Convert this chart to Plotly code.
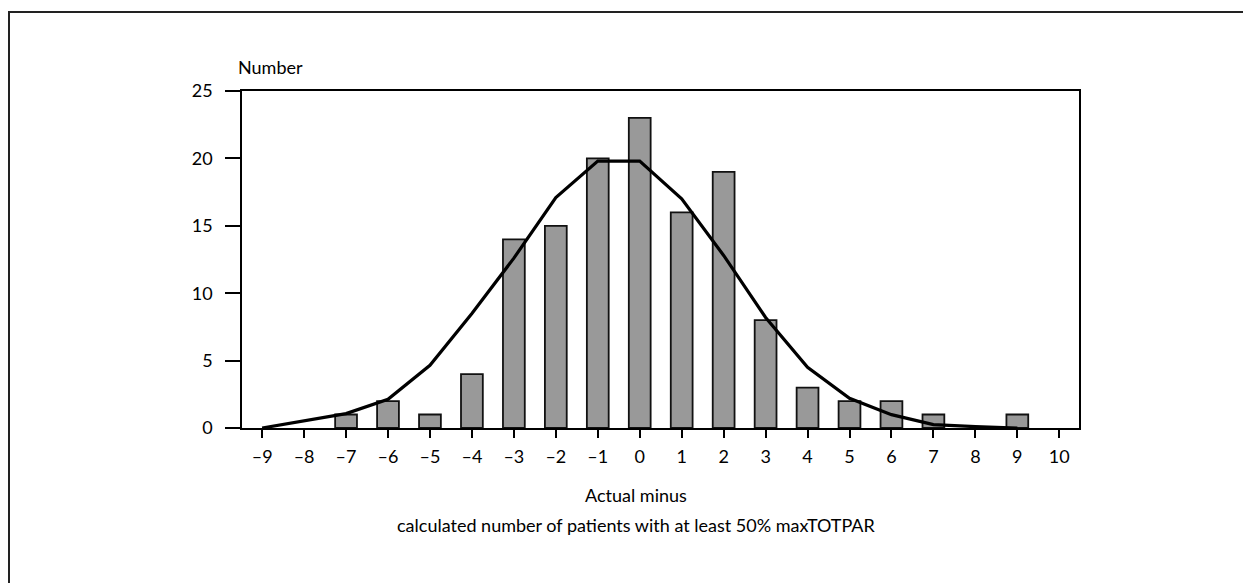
import plotly.graph_objects as go

# Histogram of differences (bars) and the fitted normal curve (line)
bar_x = [-7, -6, -5, -4, -3, -2, -1, 0, 1, 2, 3, 4, 5, 6, 7, 9]
bar_counts = [1, 2, 1, 4, 14, 15, 20, 23, 16, 19, 8, 3, 2, 2, 1, 1]

curve_x = [-9, -8, -7, -6, -5, -4, -3, -2, -1, 0, 1, 2, 3, 4, 5, 6, 7, 8, 9]
curve_y = [0, 0.52, 1.07, 2.13, 4.65, 8.5, 12.6, 17.1, 19.8, 19.8, 17.0, 12.8, 8.2, 4.5, 2.2, 0.99, 0.25, 0.1, 0]

tick_vals = list(range(-9, 11))
tick_text = ["–9", "–8", "–7", "–6", "–5", "–4", "–3", "–2", "–1", "0",
             "1", "2", "3", "4", "5", "6", "7", "8", "9", "10"]
y_ticks = [0, 5, 10, 15, 20, 25]

FONT = "Lato, 'Open Sans', sans-serif"

W, H = 1243, 583
ML, MR, MT, MB = 242, 164, 91, 155
pw = W - ML - MR
ph = H - MT - MB

fig = go.Figure()
fig.add_trace(go.Bar(
    x=bar_x, y=bar_counts, width=0.52,
    marker=dict(color="#999999", line=dict(color="#111111", width=1.8)),
    showlegend=False, hoverinfo="x+y",
))
fig.add_trace(go.Scatter(
    x=curve_x, y=curve_y, mode="lines",
    line=dict(color="#000000", width=3.2),
    showlegend=False,
))

def px_to_paper_x(px):
    return (px - ML) / pw

def px_to_paper_y(py):
    return (H - MB - py) / ph

fig.update_layout(
    width=W, height=H,
    margin=dict(l=ML, r=MR, t=MT, b=MB),
    paper_bgcolor="white", plot_bgcolor="white",
    font=dict(family=FONT, size=18, color="#000000"),
    xaxis=dict(
        range=[-9.48, 10.47], tickmode="array", tickvals=tick_vals, ticktext=tick_text,
        ticks="outside", ticklen=8, tickwidth=1.5, tickcolor="#000",
        ticklabelstandoff=4,
        showline=True, linecolor="#000", linewidth=1.5, mirror=True,
        showgrid=False, zeroline=False, fixedrange=True,
    ),
    yaxis=dict(
        range=[0, 25], tickmode="array", tickvals=y_ticks,
        ticks="outside", ticklen=15, tickwidth=1.5, tickcolor="#000",
        ticklabelstandoff=9,
        showline=True, linecolor="#000", linewidth=1.5, mirror=True,
        showgrid=False, zeroline=False, fixedrange=True,
    ),
    shapes=[dict(
        type="rect", xref="paper", yref="paper",
        x0=px_to_paper_x(9), x1=px_to_paper_x(1300),
        y0=px_to_paper_y(650), y1=px_to_paper_y(12),
        line=dict(color="#222222", width=2), fillcolor="rgba(0,0,0,0)", layer="below",
    )],
    annotations=[
        dict(text="Number", xref="paper", yref="paper",
             x=px_to_paper_x(236), y=px_to_paper_y(67),
             xanchor="left", yanchor="middle", showarrow=False),
        dict(text="Actual minus",
             xref="paper", yref="paper",
             x=px_to_paper_x(636), y=px_to_paper_y(495),
             xanchor="center", yanchor="middle", showarrow=False),
        dict(text="calculated number of patients with at least 50% maxTOTPAR",
             xref="paper", yref="paper",
             x=px_to_paper_x(636), y=px_to_paper_y(525),
             xanchor="center", yanchor="middle", showarrow=False),
    ],
)

fig.write_html("out.html")
